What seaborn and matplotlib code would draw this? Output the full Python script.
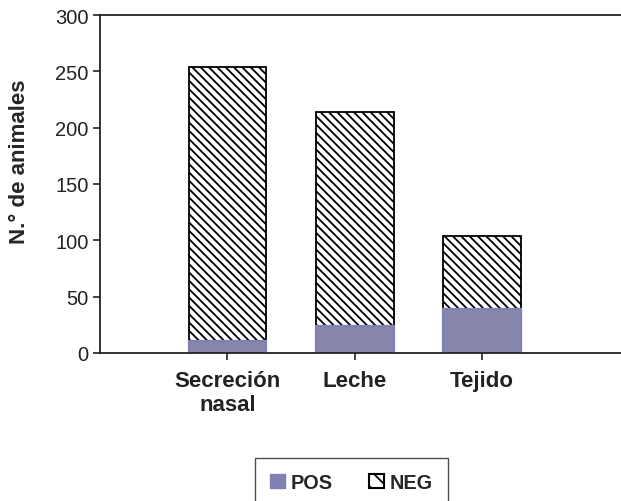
import seaborn as sns
import matplotlib.pyplot as plt
import matplotlib.patches as mpatches
import pandas as pd

categories = ["Secreción\nnasal", "Leche", "Tejido"]
pos = [11, 24, 39]
neg = [243, 190, 65]
totals = [p + n for p, n in zip(pos, neg)]

df = pd.DataFrame({"cat": categories, "pos": pos, "total": totals})

sns.set_style("white")
plt.rcParams["font.family"] = ["Liberation Sans", "DejaVu Sans"]
plt.rcParams["hatch.linewidth"] = 1.3

pos_color = "#8080b2"

fig = plt.figure(figsize=(6.21, 5.02), dpi=100)
ax = fig.add_axes([0.161, 0.295, 0.839, 0.673])

# NEG stacked on POS: draw the full height hatched, then cover the bottom with POS
sns.barplot(data=df, x="cat", y="total", color="white", edgecolor="black",
            linewidth=1.3, hatch="\\\\\\\\", width=0.61, ax=ax)
sns.barplot(data=df, x="cat", y="pos", color=pos_color, edgecolor=pos_color,
            linewidth=1.6, width=0.61, ax=ax)

ax.set_xlim(-1, 3.09)
ax.set_ylim(0, 300)
ax.set_yticks(range(0, 301, 50))
ax.set_xlabel("")
ax.set_ylabel("N.° de animales", fontsize=16, fontweight="bold")
ax.yaxis.set_label_coords(-0.135, 0.57)

for s in ["left", "bottom", "top"]:
    ax.spines[s].set_color("#222222")
    ax.spines[s].set_linewidth(1.3)
ax.spines["right"].set_visible(False)

ax.tick_params(axis="y", left=True, direction="out", length=5, width=1.2,
               labelsize=14.5, colors="#222222", pad=3)
ax.tick_params(axis="x", bottom=True, direction="out", length=5, width=1.2,
               labelsize=16, colors="#222222", pad=7)
for lab in ax.get_xticklabels():
    lab.set_fontweight("bold")

handles = [mpatches.Patch(facecolor=pos_color, edgecolor=pos_color, label="POS"),
           mpatches.Patch(facecolor="white", edgecolor="black", linewidth=1.5,
                          hatch="\\\\", label="NEG")]
leg = fig.legend(handles=handles, loc="upper center", bbox_to_anchor=(0.566, 1 - 459 / 502),
                 ncol=2, frameon=True, fancybox=False, fontsize=14.3,
                 handlelength=0.75, handleheight=0.75, handletextpad=0.3,
                 columnspacing=1.8, borderpad=0.75, borderaxespad=0)
leg.get_frame().set_edgecolor("#222222")
leg.get_frame().set_linewidth(1.0)
for t in leg.get_texts():
    t.set_fontweight("bold")

fig.savefig("out.png", dpi=100)
